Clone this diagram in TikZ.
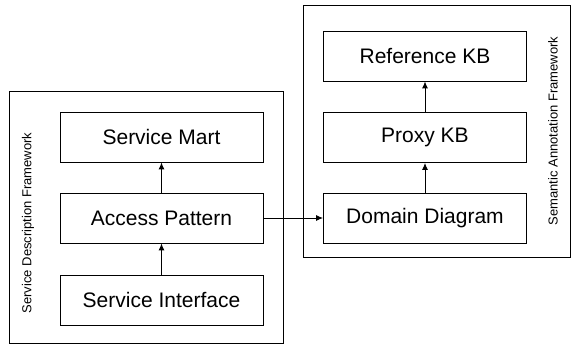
\documentclass[tikz,border=0pt]{standalone}
\usepackage{fontspec}
\setmainfont{Liberation Sans}
\usetikzlibrary{arrows.meta}
\begin{document}
\begin{tikzpicture}[x=1pt,y=-1pt,
  frame/.style={draw,line width=0.9pt},
  block/.style={draw,line width=0.9pt,minimum width=203pt,minimum height=50pt,
    inner sep=0pt,font=\fontsize{21}{25}\selectfont},
  sidelabel/.style={rotate=90,font=\fontsize{13}{15}\selectfont,inner sep=0pt},
  link/.style={line width=0.9pt,-{Latex[length=7pt,width=6pt]}}]
\useasboundingbox (0,0) rectangle (575,347);
% outer frames
\draw[frame] (9,91) rectangle (283,343);
\draw[frame] (303,5) rectangle (570,257);
% service description side
\node[block] (mart) at (161.5,137) {Service Mart};
\node[block] (access) at (161.5,218) {Access Pattern};
\node[block] (iface) at (161.5,300) {Service Interface};
\node[sidelabel] (sdf) at (28,223) {Service Description Framework};
% semantic annotation side
\node[block] (refkb) at (425,56) {Reference KB};
\node[block] (proxy) at (425,137.5) {Proxy KB};
\node[block] (domain) at (425,218) {Domain Diagram};
\node[sidelabel] (saf) at (553,131) {Semantic Annotation Framework};
% connectors
\draw[link] (iface) -- (access);
\draw[link] (access) -- (mart);
\draw[link] (domain) -- (proxy);
\draw[link] (proxy) -- (refkb);
\draw[link] (access) -- (domain);
\end{tikzpicture}
\end{document}
